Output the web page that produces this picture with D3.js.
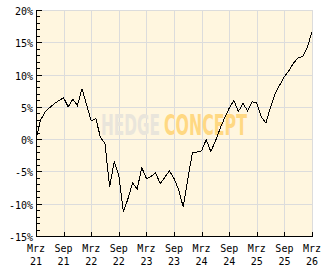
<!DOCTYPE html>
<html><head><meta charset="utf-8">
<script src="https://cdn.jsdelivr.net/npm/d3@7"></script>
<style>
html,body{margin:0;padding:0;background:#fff;}
svg{display:block;}
text{font-family:"DejaVu Sans Mono",monospace;font-size:10px;fill:#000;}
</style></head>
<body>
<svg id="c" width="332" height="269"></svg>
<script>
// Monthly performance (%) from Mar 2021 (index 0) to Mar 2026 (index 60)
const values = [
  0.0, 3.0, 4.2, 4.9, 5.5, 6.0, 6.4, 5.0, 6.2, 5.2, 7.8, 5.3,
  2.8, 3.2, 0.3, -0.7, -7.4, -3.5, -5.6, -11.3, -9.2, -6.8, -7.7, -4.4,
  -6.1, -5.8, -5.2, -6.9, -5.9, -4.9, -6.1, -7.8, -10.5, -6.2, -2.1, -2.0,
  -1.8, -0.1, -1.9, -0.3, 1.6, 3.3, 4.8, 6.0, 4.3, 5.5, 4.4, 5.8,
  5.6, 3.4, 2.5, 5.0, 7.1, 8.4, 9.7, 10.6, 11.8, 12.6, 12.8, 14.3, 16.6
];
const xTickMonths = ["Mrz","Sep","Mrz","Sep","Mrz","Sep","Mrz","Sep","Mrz","Sep","Mrz"];
const xTickYears  = ["21","21","22","22","23","23","24","24","25","25","26"];
const yTicks = [-15,-10,-5,0,5,10,15,20];
const yMinorTicks = d3.range(-15, 21, 1);

const svg = d3.select("#c");
const L = 36, R = 312, T = 10, B = 236;
const x = d3.scaleLinear().domain([0, 60]).range([L, R]);
const y = d3.scaleLinear().domain([-15, 20]).range([B, T]);
const px = v => Math.round(v) + 0.5;

// plot background
svg.append("rect").attr("x", L).attr("y", T).attr("width", R - L).attr("height", B - T)
  .attr("fill", "#FFF6DF");

// grid
const g = svg.append("g").attr("stroke", "#DCDCDC").attr("stroke-width", 1).attr("shape-rendering", "crispEdges");
xTickMonths.forEach((m, i) => {
  const xx = px(x(i * 6));
  g.append("line").attr("x1", xx).attr("x2", xx).attr("y1", T).attr("y2", B);
});
yTicks.forEach(v => {
  const yy = px(y(v));
  g.append("line").attr("x1", L).attr("x2", R + 1).attr("y1", yy).attr("y2", yy);
});

// watermark: two words, horizontally condensed by a transform
function mark(word, x0, width, color) {
  const t = svg.append("text").attr("x", 0).attr("y", 0)
    .style("font-family", "'DejaVu Sans',sans-serif")
    .style("font-weight", "bold").style("font-size", "28px")
    .style("fill", color).text(word);
  const w = t.node().getComputedTextLength();
  t.attr("transform", `translate(${x0},135) scale(${width / w},1)`);
}
mark("HEDGE", 101, 59, "#E9E5DB");
mark("CONCEPT", 164, 83, "#FFD882");

// line
const line = d3.line().x((d, i) => x(i)).y(d => y(d));
svg.append("path").datum(values).attr("d", line)
  .attr("fill", "none").attr("stroke", "#000").attr("stroke-width", 1)
  .attr("shape-rendering", "crispEdges");

// axes
const a = svg.append("g").attr("stroke", "#000").attr("stroke-width", 1).attr("shape-rendering", "crispEdges");
a.append("line").attr("x1", px(L)).attr("x2", px(L)).attr("y1", T).attr("y2", B + 1);
a.append("line").attr("x1", L).attr("x2", R + 1).attr("y1", px(B)).attr("y2", px(B));
yMinorTicks.forEach(v => {
  const major = v % 5 === 0;
  const yy = px(y(v));
  a.append("line").attr("x1", L).attr("x2", L + (major ? 6 : 4)).attr("y1", yy).attr("y2", yy);
});
xTickMonths.forEach((m, i) => {
  const xx = px(x(i * 6));
  a.append("line").attr("x1", xx).attr("x2", xx).attr("y1", B - 4).attr("y2", B);
});

// labels
yTicks.forEach(v => {
  svg.append("text").attr("x", 33).attr("y", Math.round(y(v)) + 5)
    .attr("text-anchor", "end").text(v + "%");
});
xTickMonths.forEach((m, i) => {
  const xx = x(i * 6);
  svg.append("text").attr("x", xx).attr("y", 252).attr("text-anchor", "middle").text(m);
  svg.append("text").attr("x", xx).attr("y", 265).attr("text-anchor", "middle").text(xTickYears[i]);
});
</script>
</body></html>
